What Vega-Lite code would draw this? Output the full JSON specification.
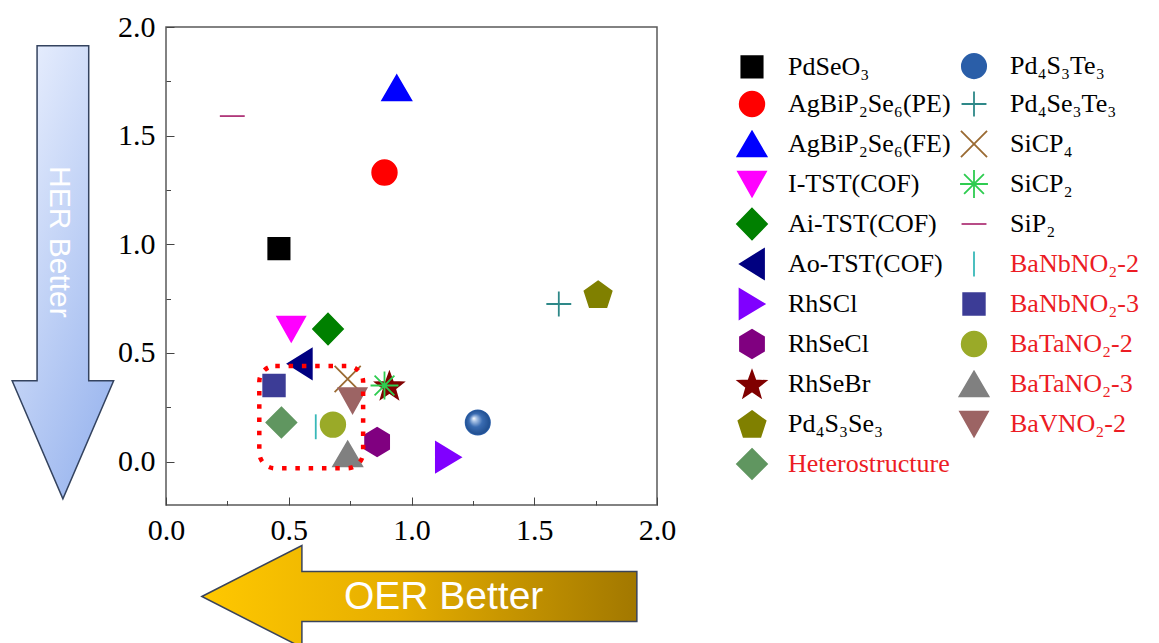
{
  "$schema": "https://vega.github.io/schema/vega-lite/v6.json",
  "width": 491,
  "height": 478,
  "autosize": {"type": "none"},
  "padding": {"left": 166, "top": 27, "right": 502, "bottom": 138},
  "config": {
    "font": "Liberation Serif",
    "view": {"stroke": "#5a5a5a", "strokeWidth": 1.5}
  },
  "datasets": {
    "materials": [
      {"material": "PdSeO₃", "oer": 0.46, "her": 0.98},
      {"material": "AgBiP₂Se₆(PE)", "oer": 0.89, "her": 1.33},
      {"material": "AgBiP₂Se₆(FE)", "oer": 0.94, "her": 1.72},
      {"material": "I-TST(COF)", "oer": 0.51, "her": 0.61},
      {"material": "Ai-TST(COF)", "oer": 0.66, "her": 0.61},
      {"material": "Ao-TST(COF)", "oer": 0.545, "her": 0.45},
      {"material": "RhSCl", "oer": 1.15, "her": 0.02},
      {"material": "RhSeCl", "oer": 0.86, "her": 0.09},
      {"material": "RhSeBr", "oer": 0.91, "her": 0.35},
      {"material": "Pd₄S₃Se₃", "oer": 1.76, "her": 0.77},
      {"material": "Pd₄S₃Te₃", "oer": 1.27, "her": 0.18},
      {"material": "Pd₄Se₃Te₃", "oer": 1.6, "her": 0.725},
      {"material": "SiCP₄", "oer": 0.74, "her": 0.38},
      {"material": "SiCP₂", "oer": 0.89, "her": 0.35},
      {"material": "SiP₂", "oer": 0.27, "her": 1.59},
      {"material": "BaNbNO₂-2", "oer": 0.61, "her": 0.16},
      {"material": "BaNbNO₂-3", "oer": 0.44, "her": 0.35},
      {"material": "BaTaNO₂-2", "oer": 0.68, "her": 0.17},
      {"material": "BaTaNO₂-3", "oer": 0.74, "her": 0.035},
      {"material": "BaVNO₂-2", "oer": 0.76, "her": 0.28},
      {"material": "Heterostructure", "oer": 0.47, "her": 0.18}
    ]
  },
  "layer": [
    {
      "data": {"values": [{}]},
      "mark": {
        "type": "point",
        "shape": "M-0.114,-1H0.114V0.479H0.224L0,1L-0.224,0.479H-0.114Z",
        "size": 205209,
        "opacity": 1,
        "fill": {"gradient": "linear", "x1": 0.2, "y1": 0, "x2": 0.8, "y2": 1, "stops": [{"offset": 0, "color": "#e6edfd"}, {"offset": 1, "color": "#98b4ee"}]},
        "stroke": "#34435f",
        "strokeWidth": 1.5
      },
      "encoding": {
        "x": {"datum": -0.42, "type": "quantitative", "scale": {"domain": [0, 2], "nice": false, "zero": false}},
        "y": {"datum": 0.871, "type": "quantitative", "scale": {"domain": [-0.2, 2], "nice": false, "zero": false}}
      }
    },
    {
      "data": {"values": [{}]},
      "mark": {"type": "text", "text": "HER Better", "font": "Liberation Sans", "fontSize": 30, "fill": "#ffffff", "angle": 90, "align": "center", "baseline": "middle"},
      "encoding": {
        "x": {"datum": -0.437, "type": "quantitative", "scale": {"domain": [0, 2], "nice": false, "zero": false}},
        "y": {"datum": 1.011, "type": "quantitative", "scale": {"domain": [-0.2, 2], "nice": false, "zero": false}}
      }
    },
    {
      "data": {"values": [{}]},
      "mark": {
        "type": "point",
        "shape": "M-1,0L-0.54,-0.2345V-0.115H1V0.115H-0.54V0.2345Z",
        "size": 189225,
        "opacity": 1,
        "fill": {"gradient": "linear", "x1": 0, "y1": 0, "x2": 1, "y2": 0, "stops": [{"offset": 0, "color": "#ffc800"}, {"offset": 0.45, "color": "#e6ae00"}, {"offset": 1, "color": "#a27800"}]},
        "stroke": "#39435a",
        "strokeWidth": 1.5
      },
      "encoding": {
        "x": {"datum": 1.032, "type": "quantitative", "scale": {"domain": [0, 2], "nice": false, "zero": false}},
        "y": {"datum": -0.621, "type": "quantitative", "scale": {"domain": [-0.2, 2], "nice": false, "zero": false}}
      }
    },
    {
      "data": {"values": [{}]},
      "mark": {"type": "text", "text": "OER Better", "font": "Liberation Sans", "fontSize": 39, "fill": "#ffffff", "align": "center", "baseline": "middle"},
      "encoding": {
        "x": {"datum": 1.131, "type": "quantitative", "scale": {"domain": [0, 2], "nice": false, "zero": false}},
        "y": {"datum": -0.622, "type": "quantitative", "scale": {"domain": [-0.2, 2], "nice": false, "zero": false}}
      }
    },
    {
      "data": {"name": "materials"},
      "mark": {"type": "point", "size": 900, "strokeWidth": 1.8, "opacity": 1},
      "encoding": {
        "x": {
          "field": "oer", "type": "quantitative",
          "scale": {"domain": [0, 2], "nice": false, "zero": false},
          "axis": {
            "title": null, "grid": false, "domain": false,
            "values": [0, 0.25, 0.5, 0.75, 1, 1.25, 1.5, 1.75, 2],
            "labelExpr": "datum.value % 0.5 === 0 ? format(datum.value, '.1f') : ''",
            "labelFont": "Liberation Serif", "labelFontSize": 30, "labelColor": "#000000",
            "labelPadding": 18, "labelOverlap": false, "labelFlush": false, "labelBound": false,
            "tickSize": {"condition": {"test": "datum.value % 0.5 !== 0", "value": -4.5}, "value": -8},
            "tickColor": "#444444", "tickWidth": 1
          }
        },
        "y": {
          "field": "her", "type": "quantitative",
          "scale": {"domain": [-0.2, 2], "nice": false, "zero": false},
          "axis": {
            "title": null, "grid": false, "domain": false,
            "values": [0, 0.25, 0.5, 0.75, 1, 1.25, 1.5, 1.75, 2],
            "labelExpr": "datum.value % 0.5 === 0 ? format(datum.value, '.1f') : ''",
            "labelFont": "Liberation Serif", "labelFontSize": 30, "labelColor": "#000000",
            "labelPadding": 19, "labelOverlap": false, "labelFlush": false, "labelBound": false,
            "tickSize": {"condition": {"test": "datum.value % 0.5 !== 0", "value": -4.5}, "value": -8},
            "tickColor": "#444444", "tickWidth": 1
          }
        },
        "shape": {
          "field": "material", "type": "nominal",
          "scale": {
            "domain": ["PdSeO₃", "AgBiP₂Se₆(PE)", "AgBiP₂Se₆(FE)", "I-TST(COF)", "Ai-TST(COF)", "Ao-TST(COF)", "RhSCl", "RhSeCl", "RhSeBr", "Pd₄S₃Se₃", "Heterostructure", "Pd₄S₃Te₃", "Pd₄Se₃Te₃", "SiCP₄", "SiCP₂", "SiP₂", "BaNbNO₂-2", "BaNbNO₂-3", "BaTaNO₂-2", "BaTaNO₂-3", "BaVNO₂-2"],
            "range": [
              "M-0.71,-0.71H0.71V0.71H-0.71Z",
              "M-0.82,0A0.82,0.82,0,1,1,0.82,0A0.82,0.82,0,1,1,-0.82,0Z",
              "M0,-0.83L0.97,0.83H-0.97Z",
              "M0,0.83L0.93,-0.83H-0.93Z",
              "M0,-1.03L1,0L0,1.03L-1,0Z",
              "M-0.8,0L0.8,-1V1Z",
              "M0.83,0L-0.83,-1V1Z",
              "M0,-0.94L0.8,-0.47V0.47L0,0.94L-0.8,0.47V-0.47Z",
              "M0,-0.88L0.235,-0.234L0.922,-0.21L0.38,0.214L0.57,0.875L0,0.49L-0.57,0.875L-0.38,0.214L-0.922,-0.21L-0.235,-0.234Z",
              "M0,-0.863L0.906,-0.204L0.56,0.861H-0.56L-0.906,-0.204Z",
              "M0,-1L1,0L0,1L-1,0Z",
              "M-0.81,0A0.81,0.81,0,1,1,0.81,0A0.81,0.81,0,1,1,-0.81,0Z",
              "M-0.83,0H0.83M0,-0.83V0.83",
              "M-0.87,-0.87L0.87,0.87M-0.87,0.87L0.87,-0.87",
              "M-0.93,0H0.93M0,-0.93V0.93M-0.66,-0.66L0.66,0.66M-0.66,0.66L0.66,-0.66",
              "M-0.83,0H0.83",
              "M0,-0.83V0.83",
              "M-0.72,-0.72H0.72V0.72H-0.72Z",
              "M-0.82,0A0.82,0.82,0,1,1,0.82,0A0.82,0.82,0,1,1,-0.82,0Z",
              "M0,-0.83L0.97,0.83H-0.97Z",
              "M0,0.83L0.93,-0.83H-0.93Z"
            ]
          },
          "legend": {
            "title": null, "orient": "none", "legendX": 570, "legendY": 21, "columns": 2, "gridAlign": "all",
            "columnPadding": 4, "rowPadding": 0, "padding": 0, "symbolSize": 900, "symbolStrokeWidth": 1.8, "symbolOpacity": 1,
            "labelFont": "Liberation Serif", "labelFontSize": 26, "labelOffset": 20, "labelLimit": 300,
            "encode": {"labels": {"update": {"fill": {"signal": "indexof(datum.label, 'Ba') === 0 || datum.label === 'Heterostructure' ? '#ec1c24' : '#000000'"}}}}
          }
        },
        "fill": {
          "field": "material", "type": "nominal",
          "scale": {
            "domain": ["PdSeO₃", "AgBiP₂Se₆(PE)", "AgBiP₂Se₆(FE)", "I-TST(COF)", "Ai-TST(COF)", "Ao-TST(COF)", "RhSCl", "RhSeCl", "RhSeBr", "Pd₄S₃Se₃", "Heterostructure", "Pd₄S₃Te₃", "Pd₄Se₃Te₃", "SiCP₄", "SiCP₂", "SiP₂", "BaNbNO₂-2", "BaNbNO₂-3", "BaTaNO₂-2", "BaTaNO₂-3", "BaVNO₂-2"],
            "range": ["#000000", "#ff0000", "#0000ff", "#ff00ff", "#008000", "#000080", "#8000ff", "#800080", "#800000", "#808000", "#609660", "#2a5ea8", "transparent", "transparent", "transparent", "transparent", "transparent", "#3c3c96", "#9aaa28", "#808080", "#9c6464"]
          },
          "legend": {
            "title": null, "orient": "none", "legendX": 570, "legendY": 21, "columns": 2, "gridAlign": "all",
            "columnPadding": 4, "rowPadding": 0, "padding": 0, "symbolSize": 900, "symbolStrokeWidth": 1.8, "symbolOpacity": 1,
            "labelFont": "Liberation Serif", "labelFontSize": 26, "labelOffset": 20, "labelLimit": 300,
            "encode": {"labels": {"update": {"fill": {"signal": "indexof(datum.label, 'Ba') === 0 || datum.label === 'Heterostructure' ? '#ec1c24' : '#000000'"}}}}
          }
        },
        "stroke": {
          "field": "material", "type": "nominal",
          "scale": {
            "domain": ["PdSeO₃", "AgBiP₂Se₆(PE)", "AgBiP₂Se₆(FE)", "I-TST(COF)", "Ai-TST(COF)", "Ao-TST(COF)", "RhSCl", "RhSeCl", "RhSeBr", "Pd₄S₃Se₃", "Heterostructure", "Pd₄S₃Te₃", "Pd₄Se₃Te₃", "SiCP₄", "SiCP₂", "SiP₂", "BaNbNO₂-2", "BaNbNO₂-3", "BaTaNO₂-2", "BaTaNO₂-3", "BaVNO₂-2"],
            "range": ["#000000", "#ff0000", "#0000ff", "#ff00ff", "#008000", "#000080", "#8000ff", "#800080", "#800000", "#808000", "#609660", "#2a5ea8", "#2e8888", "#9a6a32", "#2ecc50", "#b0387a", "#38b8b8", "#3c3c96", "#9aaa28", "#808080", "#9c6464"]
          },
          "legend": {
            "title": null, "orient": "none", "legendX": 570, "legendY": 21, "columns": 2, "gridAlign": "all",
            "columnPadding": 4, "rowPadding": 0, "padding": 0, "symbolSize": 900, "symbolStrokeWidth": 1.8, "symbolOpacity": 1,
            "labelFont": "Liberation Serif", "labelFontSize": 26, "labelOffset": 20, "labelLimit": 300,
            "encode": {"labels": {"update": {"fill": {"signal": "indexof(datum.label, 'Ba') === 0 || datum.label === 'Heterostructure' ? '#ec1c24' : '#000000'"}}}}
          }
        }
      }
    },
    {
      "data": {"name": "materials"},
      "transform": [{"filter": "datum.material === 'Pd₄S₃Te₃'"}],
      "mark": {
        "type": "point",
        "shape": "M-0.81,0A0.81,0.81,0,1,1,0.81,0A0.81,0.81,0,1,1,-0.81,0Z",
        "size": 900,
        "opacity": 1,
        "strokeWidth": 0,
        "fill": {"gradient": "radial", "x1": 0.33, "y1": 0.33, "r1": 0, "x2": 0.5, "y2": 0.5, "r2": 0.55, "stops": [{"offset": 0, "color": "#ffffff"}, {"offset": 0.18, "color": "#a9c3e6"}, {"offset": 0.5, "color": "#3a6cb2"}, {"offset": 1, "color": "#1c4a8a"}]}
      },
      "encoding": {
        "x": {"field": "oer", "type": "quantitative", "scale": {"domain": [0, 2], "nice": false, "zero": false}},
        "y": {"field": "her", "type": "quantitative", "scale": {"domain": [-0.2, 2], "nice": false, "zero": false}}
      }
    },
    {
      "data": {"values": [{}]},
      "mark": {"type": "rect", "fill": "transparent", "stroke": "#ff0000", "strokeWidth": 4.5, "strokeDash": [4.5, 8.8], "cornerRadius": 16},
      "encoding": {
        "x": {"datum": 0.38, "type": "quantitative", "scale": {"domain": [0, 2], "nice": false, "zero": false}},
        "x2": {"datum": 0.803},
        "y": {"datum": 0.44, "type": "quantitative", "scale": {"domain": [-0.2, 2], "nice": false, "zero": false}},
        "y2": {"datum": -0.031}
      }
    }
  ]
}
